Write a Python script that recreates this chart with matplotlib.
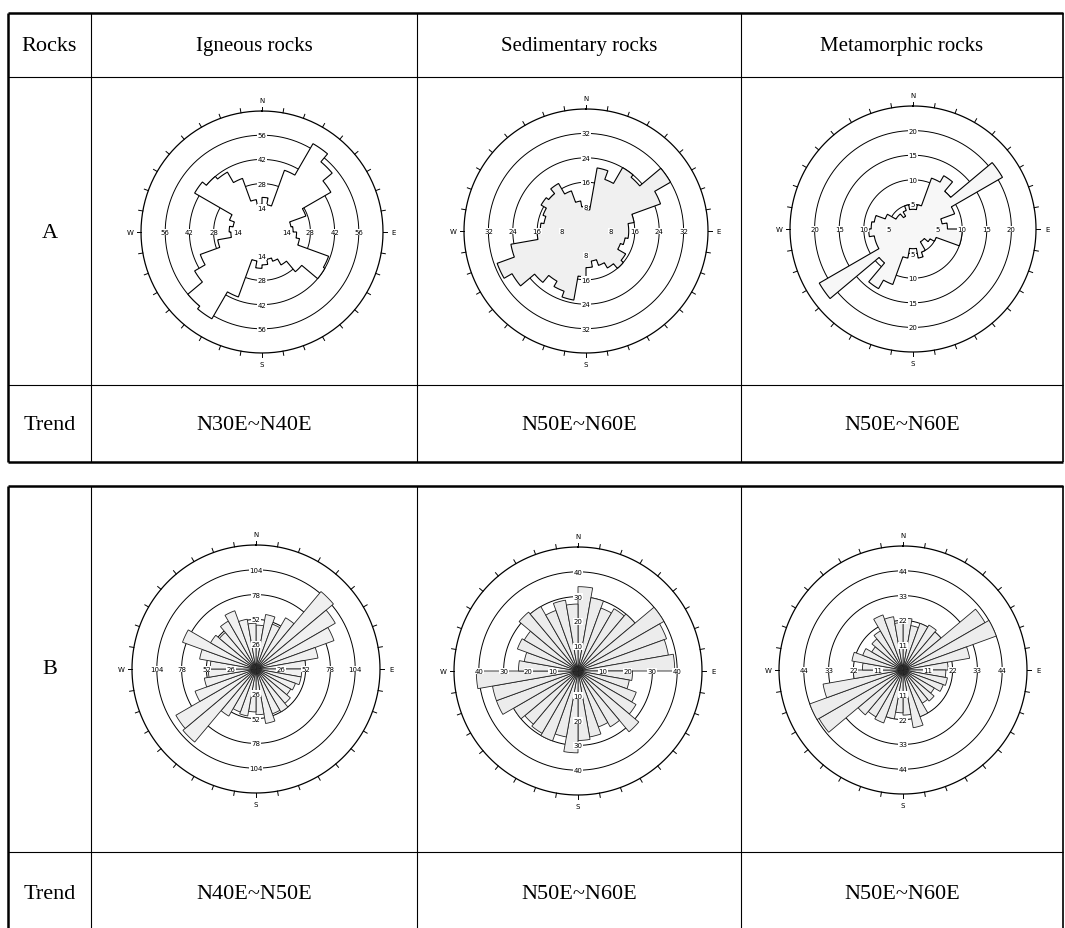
import numpy as np
import matplotlib.pyplot as plt

W, H = 1065, 929
plt.rcParams['font.family'] = ['Liberation Serif', 'DejaVu Serif']

# 10 degree bins, clockwise from north
bins = np.arange(0, 360, 10)

ign_a = [20, 16, 38, 59, 53, 46, 27, 17, 18, 20, 22, 41, 42, 30, 22, 18, 16, 19,
         21, 17, 40, 58, 56, 45, 38, 26, 18, 19, 17, 20, 45, 42, 40, 33, 19, 16]
sed_a = [7, 21, 18, 24, 23, 32, 26, 16, 14, 14, 13, 12, 15, 16, 14, 12, 10, 12,
         15, 23, 21, 19, 22, 28, 31, 25, 16, 15, 14, 15, 17, 16, 18, 14, 10, 8]
met_a = [4, 5, 11, 12.5, 10, 21, 9, 6, 7, 10, 10, 5, 4, 3, 3, 5, 6, 4,
         4, 6, 12, 14, 9, 22, 8, 8, 9, 8.5, 8, 6, 4, 4, 3, 4, 5, 4]
ign_b = [46, 58, 50, 62, 106, 96, 87, 66, 52, 48, 48, 44, 42, 47, 52, 50, 58, 48,
         45, 50, 48, 57, 100, 97, 68, 55, 50, 48, 60, 82, 55, 50, 58, 65, 53, 48]
sed_b = [34, 30, 27, 29, 30, 40, 38, 37, 39, 22, 21, 25, 27, 32, 26, 24, 27, 28,
         33, 27, 30, 29, 28, 30, 35, 35, 41, 24, 22, 26, 25, 31, 30, 26, 29, 27]
met_b = [23, 20, 22, 23, 22, 42, 44, 30, 20, 19, 20, 19, 16, 18, 17, 22, 26, 20,
         19, 22, 25, 24, 26, 43, 44, 36, 22, 18, 23, 19, 16, 18, 20, 26, 24, 21]

rocks = ['Igneous rocks', 'Sedimentary rocks', 'Metamorphic rocks']
trend_a = ['N30E~N40E', 'N50E~N60E', 'N50E~N60E']
trend_b = ['N40E~N50E', 'N50E~N60E', 'N50E~N60E']
rings_a = [[14, 28, 42, 56], [8, 16, 24, 32], [5, 10, 15, 20]]
rings_b = [[26, 52, 78, 104], [10, 20, 30, 40], [11, 22, 33, 44]]

fig = plt.figure(figsize=(W / 100, H / 100), dpi=100)
base = fig.add_axes([0, 0, 1, 1])
base.set_xlim(0, W)
base.set_ylim(H, 0)
base.axis('off')

col_x = [8, 91, 417, 741, 1063]
col_mid = [(col_x[i] + col_x[i + 1]) / 2 for i in range(4)]


def hline(y, x0, x1, lw):
    base.plot([x0, x1], [y, y], color='k', lw=lw, solid_capstyle='butt')


def vline(x, y0, y1, lw):
    base.plot([x, x], [y0, y1], color='k', lw=lw, solid_capstyle='butt')


# table A
hline(14, 8, 1063, 1.8)
hline(463, 8, 1063, 1.8)
hline(78, 8, 1063, 0.8)
hline(386, 8, 1063, 0.8)
vline(8, 14, 463, 1.8)
vline(1063, 14, 463, 1.2)
for x in col_x[1:4]:
    vline(x, 14, 463, 0.8)

# table B
hline(487, 8, 1063, 1.8)
hline(853, 8, 1063, 0.8)
vline(8, 487, 929, 1.8)
vline(1063, 487, 929, 1.2)
for x in col_x[1:4]:
    vline(x, 487, 929, 0.8)

base.text(col_mid[0], 46, 'Rocks', ha='center', va='center', fontsize=16)
for i, name in enumerate(rocks):
    base.text(col_mid[i + 1], 46, name, ha='center', va='center', fontsize=15)
    base.text(col_mid[i + 1], 425, trend_a[i], ha='center', va='center', fontsize=16)
    base.text(col_mid[i + 1], 895, trend_b[i], ha='center', va='center', fontsize=16)
base.text(col_mid[0], 233, 'A', ha='center', va='center', fontsize=16)
base.text(col_mid[0], 670, 'B', ha='center', va='center', fontsize=16)
base.text(col_mid[0], 425, 'Trend', ha='center', va='center', fontsize=16)
base.text(col_mid[0], 895, 'Trend', ha='center', va='center', fontsize=16)


def rose(cx, cy, rpx, counts, rings, fill, outline=True):
    ax = fig.add_axes([(cx - rpx) / W, 1 - (cy + rpx) / H, 2 * rpx / W, 2 * rpx / H],
                      projection='polar')
    step = rings[1] - rings[0]
    outer = rings[-1] + step
    ax.set_theta_zero_location('N')
    ax.set_theta_direction(-1)
    ax.set_ylim(0, outer)
    ax.axis('off')

    th = np.linspace(0, 2 * np.pi, 361)
    for r in rings:
        ax.plot(th, np.full_like(th, r), color='k', lw=0.7, zorder=1)
    ax.plot(th, np.full_like(th, outer), color='k', lw=0.9, zorder=1, clip_on=False)

    w = np.radians(10)
    if outline:
        tt, rr = [], []
        for a, c in zip(np.radians(bins), counts):
            seg = np.linspace(a, a + w, 12)
            tt.extend(seg)
            rr.extend([c] * len(seg))
        ax.fill(tt, rr, facecolor=fill, edgecolor='k', lw=0.8, zorder=2)
    else:
        ax.bar(np.radians(bins), counts, width=w, align='edge', color=fill,
               edgecolor='#222222', lw=0.6, zorder=2)

    for a in range(0, 360, 10):
        t = np.radians(a)
        ax.plot([t, t], [outer, outer * 1.035], color='k', lw=0.7, clip_on=False)
    for a, lab in zip([0, 90, 180, 270], ['N', 'E', 'S', 'W']):
        ax.text(np.radians(a), outer * 1.09, lab, ha='center', va='center',
                fontsize=5, family='DejaVu Sans', clip_on=False)
        for r in rings:
            ax.text(np.radians(a), r, str(r), ha='center', va='center', fontsize=5,
                    family='DejaVu Sans', zorder=5,
                    bbox=dict(facecolor='white', edgecolor='none', pad=0.3))


rose(262, 233, 121, ign_a, rings_a[0], 'white')
rose(586, 232, 122, sed_a, rings_a[1], '#f0f0f0')
rose(913, 230, 123, met_a, rings_a[2], '#f7f7f7')
rose(256, 670, 124, ign_b, rings_b[0], '#f0f0f0', outline=False)
rose(578, 672, 124, sed_b, rings_b[1], '#ececec', outline=False)
rose(903, 671, 124, met_b, rings_b[2], '#ededed', outline=False)

fig.savefig('out.png', dpi=100, facecolor='white')
